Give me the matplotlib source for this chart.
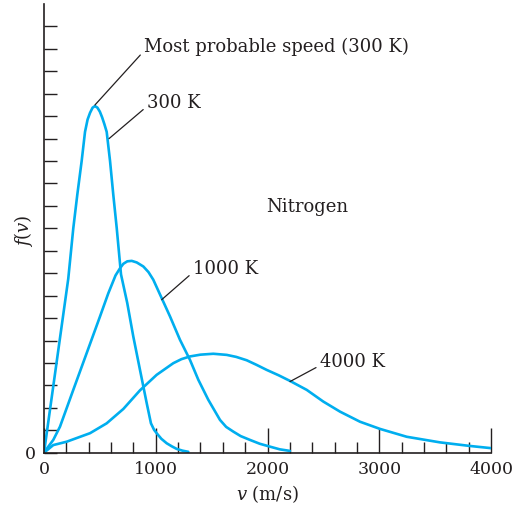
import numpy as np
import matplotlib.pyplot as plt

# speeds in m/s, f(v) in y-tick units
v_300 = [0, 217, 262, 298, 337, 367, 390, 412, 435, 456, 478, 500, 520, 540, 561, 591, 620, 651, 689, 745, 799, 859, 919, 957, 985, 1008, 1050, 1098, 1145, 1187, 1240, 1291]
f_300 = [0, 7.75, 10.0, 11.5, 13.0, 14.3, 14.85, 15.15, 15.38, 15.45, 15.38, 15.2, 14.95, 14.65, 14.3, 13.0, 11.5, 10.0, 7.95, 6.67, 5.18, 3.69, 2.21, 1.31, 1.02, 0.87, 0.62, 0.42, 0.28, 0.17, 0.09, 0.04]

v_1000 = [0, 40, 83, 143, 262, 382, 501, 575, 640, 680, 710, 745, 785, 830, 889, 935, 978, 1053, 1128, 1217, 1306, 1381, 1470, 1575, 1630, 1694, 1760, 1843, 1930, 2022, 2110, 2201]
f_1000 = [0, 0.28, 0.57, 1.16, 2.80, 4.44, 6.07, 7.10, 7.90, 8.22, 8.42, 8.53, 8.55, 8.48, 8.30, 8.05, 7.71, 6.89, 6.07, 5.03, 4.14, 3.25, 2.36, 1.46, 1.15, 0.94, 0.74, 0.57, 0.40, 0.27, 0.15, 0.08]

v_4000 = [0, 83, 203, 412, 561, 710, 859, 1008, 1157, 1230, 1306, 1400, 1515, 1635, 1720, 1814, 1900, 1993, 2100, 2201, 2351, 2499, 2649, 2828, 3007, 3246, 3544, 3812, 4006]
f_4000 = [0, 0.34, 0.49, 0.87, 1.31, 1.95, 2.78, 3.47, 3.99, 4.17, 4.29, 4.37, 4.41, 4.36, 4.27, 4.12, 3.92, 3.69, 3.45, 3.20, 2.80, 2.28, 1.83, 1.38, 1.06, 0.71, 0.46, 0.30, 0.20]

x_ticks = [0, 1000, 2000, 3000, 4000]
x_labels = ["0", "1000", "2000", "3000", "4000"]

blue = "#00AEEF"
ink = "#231f20"
plt.rcParams['font.family'] = ['DejaVu Serif']
plt.rcParams['mathtext.fontset'] = 'dejavuserif'

fig = plt.figure(figsize=(5.17, 5.14), dpi=100)
ax = fig.add_axes([44/517, 61.3/514, 447/517, 448.7/514])

for v, f in [(v_300, f_300), (v_1000, f_1000), (v_4000, f_4000)]:
    ax.plot(v, f, color=blue, lw=1.9, solid_capstyle='round', solid_joinstyle='round')

ax.set_xlim(0, 4000)
ax.set_ylim(0, 20)
for s in ['top', 'right']:
    ax.spines[s].set_visible(False)
for s in ['left', 'bottom']:
    ax.spines[s].set_color(ink)
    ax.spines[s].set_linewidth(1.2)

ax.set_xticks(x_ticks)
ax.set_xticklabels(x_labels, fontsize=12.5, color=ink)
ax.set_xticks(np.arange(0, 4001, 200), minor=True)
ax.tick_params(axis='x', which='major', direction='in', length=18, width=1, color=ink, pad=6)
ax.tick_params(axis='x', which='minor', direction='in', length=7.7, width=1, color=ink)
ax.set_yticks(np.arange(0, 20))
ax.set_yticklabels(["0"] + [""] * 19, fontsize=12.5, color=ink)
ax.tick_params(axis='y', direction='in', length=9, width=1, color=ink, pad=6)

ax.text(2000, -1.85, r"$v$ (m/s)", fontsize=13, color=ink, ha='center', va='center')
ax.text(-180, 9.9, r"$f(v)$", fontsize=13, color=ink, ha='center', va='center', rotation=90)

ax.text(2353, 10.96, "Nitrogen", fontsize=13, color=ink, ha='center', va='center')

# annotations with leader lines
notes = [("Most probable speed (300 K)", (456, 15.5), (895, 18.07)),
         ("300 K", (582, 14.0), (922, 15.6)),
         ("1000 K", (1053, 6.82), (1333, 8.2)),
         ("4000 K", (2201, 3.17), (2470, 4.05))]
for txt, xy, xyt in notes:
    ax.annotate(txt, xy=xy, xytext=xyt, fontsize=13, color=ink, va='center', ha='left',
                arrowprops=dict(arrowstyle='-', color=ink, lw=0.9, shrinkA=1, shrinkB=0,
                                relpos=(0, 0.3)))

fig.savefig("out.png", dpi=100)
